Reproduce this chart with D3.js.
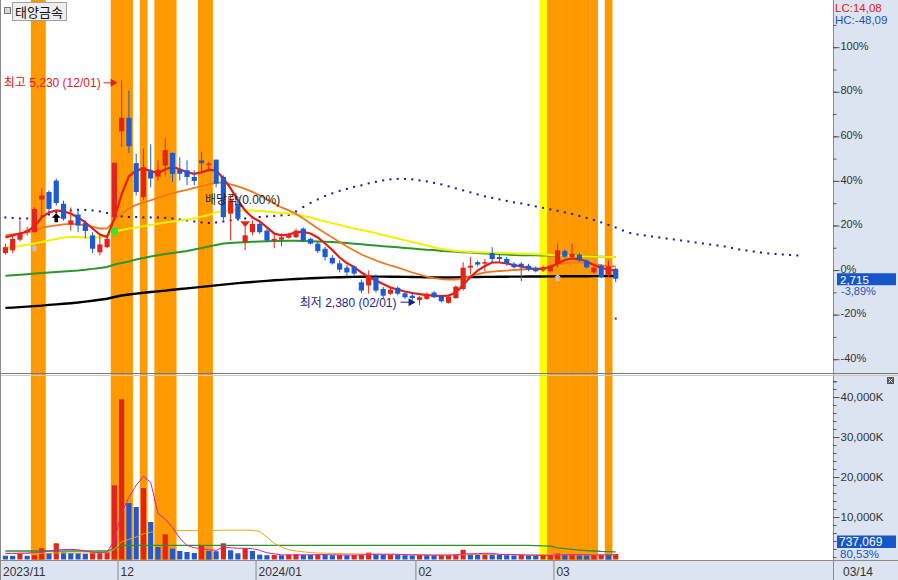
<!DOCTYPE html>
<html><head><meta charset="utf-8">
<script src="https://cdn.jsdelivr.net/npm/d3@7"></script>
<style>body{margin:0;background:#fff;}svg{display:block;font-family:"Liberation Sans","Noto Sans CJK KR",sans-serif;}</style>
</head><body><svg id="c" width="898" height="580"></svg>
<script>
// ---------------- DATA ----------------
const stockName = "태양금속";
const dates = ["11/09","11/10","11/13","11/14","11/15","11/16","11/17","11/20","11/21","11/22","11/23","11/24","11/27","11/28","11/29","11/30",
"12/01","12/04","12/05","12/06","12/07","12/08","12/11","12/12","12/13","12/14","12/15","12/18","12/19","12/20","12/21","12/22","12/26","12/27","12/28",
"01/02","01/03","01/04","01/05","01/08","01/09","01/10","01/11","01/12","01/15","01/16","01/17","01/18","01/19","01/22","01/23","01/24","01/25","01/26","01/29","01/30","01/31",
"02/01","02/02","02/05","02/06","02/07","02/08","02/13","02/14","02/15","02/16","02/19","02/20","02/21","02/22","02/23","02/26","02/27","02/28","02/29",
"03/04","03/05","03/06","03/07","03/08","03/11","03/12","03/13","03/14"];
const openP  = [3040,3075,3210,3325,3305,3720,3815,3960,3665,3405,3530,3420,3265,3050,3115,3495,4585,4755,4180,3750,4075,4010,4150,4310,4095,4090,4005,4215,4160,4225,4005,3540,3665,3180,3305,3410,3325,3215,3210,3235,3240,3350,3220,3160,3095,2980,2910,2855,2870,2670,2630,2735,2585,2525,2600,2530,2500,2445,2460,2540,2495,2410,2470,2585,2855,2925,2910,3040,2990,2965,2905,2905,2880,2855,2820,2810,2905,3065,2990,3020,2945,2795,2880,2775,2840];
const highP  = [3160,3265,3455,3370,3620,3860,3835,3985,3705,3620,3605,3455,3305,3290,3250,4185,5230,5100,4300,4365,4420,4215,4495,4315,4255,4215,4090,4320,4195,4225,4025,3770,3750,3370,3455,3430,3350,3290,3290,3300,3350,3365,3235,3180,3120,3015,2950,2890,2885,2705,2820,2770,2610,2600,2620,2555,2540,2495,2540,2560,2510,2500,2630,2925,2990,2945,2965,3115,3020,2990,2925,2925,2905,2870,2880,2895,3160,3090,3160,3040,2960,2870,2900,2945,2855];
const lowP   = [3020,3040,3185,3265,3300,3495,3555,3645,3450,3325,3305,3225,3040,3010,3100,3480,4385,4310,3770,3710,3875,3960,4025,3940,3960,3900,3900,4065,4095,3875,3455,3200,3455,3075,3265,3285,3180,3100,3125,3225,3230,3185,3150,3040,2945,2895,2795,2755,2745,2530,2525,2540,2470,2510,2505,2460,2440,2380,2445,2470,2415,2400,2460,2565,2770,2870,2810,2925,2925,2880,2845,2685,2810,2795,2800,2795,2860,2980,2965,2930,2845,2780,2720,2735,2670];
const closeP = [3115,3220,3290,3330,3600,3770,3600,3675,3475,3455,3390,3320,3095,3150,3220,4185,4755,4395,3815,4130,3985,4095,4345,4045,4045,4005,3955,4180,4175,3920,3495,3710,3475,3265,3410,3305,3200,3220,3240,3285,3325,3200,3160,3065,2990,2910,2830,2795,2780,2565,2755,2565,2500,2575,2525,2480,2470,2480,2525,2480,2430,2490,2615,2855,2880,2895,2925,2965,2965,2905,2860,2860,2830,2810,2860,2880,3075,2995,3030,2945,2860,2855,2735,2870,2715];
const volumeK = [320,290,800,300,450,2175,1000,3425,1175,1000,950,800,1175,1200,1250,17925,39425,13500,12500,17250,8750,2500,5675,2100,1500,1250,1000,2925,1500,1450,3425,1675,925,2100,1500,600,450,500,420,600,700,550,500,650,600,450,500,420,520,600,1100,700,550,600,500,450,400,500,450,400,420,450,700,1800,700,500,900,650,500,450,400,500,350,300,450,500,900,500,600,450,400,500,600,550,737];
const ma5   = [3238,3264,3289,3314,3378,3492,3556,3581,3568,3543,3492,3429,3352,3276,3244,3479,3784,4013,4089,4108,4083,4051,4102,4133,4102,4064,4045,4064,4095,4089,3987,3860,3708,3581,3492,3441,3365,3289,3264,3276,3302,3308,3289,3238,3162,3079,2984,2914,2863,2794,2736,2692,2648,2603,2578,2553,2534,2521,2508,2502,2495,2502,2540,2635,2736,2819,2876,2921,2921,2908,2889,2870,2851,2838,2845,2864,2908,2952,2971,2965,2933,2889,2851,2832,2813];
const ma20  = [3264,3276,3289,3302,3321,3359,3378,3391,3403,3410,3403,3391,3371,3352,3352,3454,3543,3606,3651,3683,3708,3740,3772,3797,3822,3841,3867,3886,3911,3930,3937,3911,3886,3854,3816,3772,3721,3670,3619,3581,3537,3479,3416,3352,3295,3238,3181,3124,3073,3022,2984,2946,2914,2883,2857,2826,2794,2768,2743,2724,2711,2705,2705,2724,2749,2775,2794,2806,2813,2819,2826,2832,2838,2838,2845,2864,2895,2914,2921,2921,2914,2902,2883,2876,2870];
const ma60  = [3107,3117,3130,3147,3162,3181,3200,3219,3238,3244,3244,3238,3238,3238,3257,3314,3333,3350,3365,3382,3397,3413,3429,3441,3454,3467,3479,3502,3524,3556,3575,3579,3581,3581,3579,3575,3568,3559,3549,3540,3530,3511,3492,3467,3441,3420,3397,3375,3352,3333,3314,3292,3270,3248,3225,3204,3181,3159,3137,3115,3092,3079,3067,3060,3054,3051,3048,3045,3042,3039,3035,3033,3029,3026,3022,3016,3010,3007,3003,3001,2997,2994,2993,2992,2990];
const ma120 = [2752,2758,2766,2772,2780,2787,2794,2800,2806,2813,2819,2829,2840,2852,2863,2895,2914,2933,2959,2978,2997,3012,3029,3041,3054,3067,3086,3105,3124,3143,3162,3168,3175,3178,3183,3187,3190,3192,3194,3195,3196,3194,3191,3187,3185,3181,3175,3167,3160,3152,3143,3135,3128,3120,3113,3105,3097,3090,3082,3079,3067,3062,3057,3051,3046,3041,3036,3031,3026,3021,3016,3014,3013,3012,3011,3010,3007,3004,3002,2999,2997,2996,2993,2992,2990];
const ma240 = [2345,2349,2355,2362,2368,2374,2383,2390,2397,2405,2413,2425,2436,2448,2461,2483,2502,2515,2527,2537,2546,2555,2565,2575,2584,2593,2603,2612,2622,2631,2641,2650,2659,2667,2674,2682,2688,2695,2701,2707,2712,2717,2721,2725,2729,2732,2734,2737,2739,2741,2742,2742,2742,2741,2740,2739,2737,2735,2733,2732,2731,2731,2732,2734,2736,2737,2738,2739,2740,2741,2742,2742,2743,2743,2744,2745,2745,2746,2746,2747,2747,2748,2748,2749,2749];
// leading line, drawn 25 sessions beyond the last candle
const leadLine = [3492,3486,3479,3479,3479,3505,3530,3556,3568,3581,3587,3587,3581,3568,3549,3524,3505,3498,3498,3492,3492,3492,3486,3479,3467,3454,3441,3429,3422,3429,3441,3454,3467,3479,3492,3498,3505,3511,3518,3524,3568,3625,3676,3721,3765,3797,3829,3854,3880,3899,3924,3943,3962,3975,3981,3981,3975,3962,3949,3930,3911,3886,3860,3835,3810,3784,3759,3740,3721,3702,3683,3670,3651,3632,3613,3594,3575,3556,3537,3511,3486,3460,3429,3397,3365,3327,3295,3276,3264,3251,3238,3225,3213,3200,3187,3175,3162,3149,3137,3124,3105,3086,3073,3060,3048,3035,3029,3022,3016,3010];
const volMa5  = [925,900,950,1000,1100,1300,1500,1700,1850,1900,1800,1500,1200,1100,1250,4175,11175,14925,17925,20175,18675,10925,9425,7425,4675,2925,2300,2100,1800,1675,2500,2300,2175,2175,2100,1675,1050,800,550,500,520,540,560,580,600,550,520,500,480,510,650,690,690,710,690,560,540,500,460,440,440,440,480,760,810,830,920,910,650,640,580,500,440,400,400,420,540,540,590,590,570,490,510,540,560];
const volMa20 = [900,900,900,900,900,950,950,1000,1000,1000,1000,1000,1000,1000,1050,1900,3800,4400,5000,5800,6200,6300,6500,6550,6600,6600,6600,6650,6650,6650,6700,6700,6700,6700,6650,6400,5000,3400,2500,1800,1500,1300,1100,1000,950,900,850,800,800,750,750,700,650,620,600,590,580,570,560,550,550,550,560,600,620,630,650,650,640,630,620,610,600,590,580,570,570,570,570,560,560,560,560,560,560];
const volMa60 = [1500,1500,1500,1500,1500,1500,1500,1500,1500,1500,1500,1500,1500,1500,1500,2000,2900,2900,2900,2900,2900,2900,2900,2900,2900,2900,2900,2900,2900,2900,2900,2900,2900,2900,2900,2900,2900,2900,2900,2900,2900,2900,2900,2900,2900,2900,2900,2900,2900,2900,2900,2900,2900,2900,2900,2900,2900,2900,2900,2900,2900,2900,2900,2900,2900,2900,2900,2900,2900,2900,2900,2900,2900,2850,2800,2700,2300,2100,1900,1700,1600,1500,1400,1350,1300];
const orangeDays = [4,5,15,16,17,19,21,22,23,27,28,75,76,77,78,79,80,81,83];
const yellowDays = [74];
const pctTicks = [100,80,60,40,20,0,-20,-40];
const volTicks = [10000,20000,30000,40000];
const monthLabels = [{i:0,t:"2023/11"},{i:16,t:"12"},{i:35,t:"2024/01"},{i:57,t:"02"},{i:76,t:"03"}];
const basePrice = 2825;
const buySignals = [{i:7,p:3545}];
const sellSignals = [{i:33,p:3405}];
const grayMarks = [{i:4,p:3105},{i:76,p:2730}];
const crossDots = [{i:15,p:3318}];
const smallMarks = [{i:84,p:2210}];
const dividendNote = {i:27,t:"배당락(0.00%)"};
const lastVolumeText = "737,069", lastVolumePct = "80.53%";

// ---------------- DRAW ----------------
const svg = d3.select("#c");
const W=898,H=580,PR=833;
const RED="#e42418",BLUE="#1f5ad2";
svg.append("rect").attr("width",W).attr("height",H).attr("fill","#fff");

const x = d3.scaleLinear().domain([0,84]).range([5.4,615.7]);
const step = x(1)-x(0);
const yPct = d3.scaleLinear().domain([-40,100]).range([359.2,47.2]);
const yP = p => yPct((p/basePrice-1)*100);
const yV = d3.scaleLinear().domain([0,40000]).range([557,397]);

const defs = svg.append("defs");
defs.append("clipPath").attr("id","cp").append("rect").attr("x",0).attr("y",0).attr("width",PR).attr("height",373);
defs.append("clipPath").attr("id","cv").append("rect").attr("x",0).attr("y",376).attr("width",PR).attr("height",184);

// bands
const bands = svg.append("g");
bands.selectAll(".ob").data(orangeDays).join("rect").attr("x",d=>x(d)-step/2).attr("width",step+0.4).attr("y",0).attr("height",560).attr("fill","#ff9900");
bands.selectAll(".yb").data(yellowDays).join("rect").attr("x",d=>x(d)-step/2).attr("width",step+0.4).attr("y",0).attr("height",560).attr("fill","#ffff00");

// price pane
const gp = svg.append("g").attr("clip-path","url(#cp)");
gp.selectAll(".ld").data(leadLine).join("rect").attr("x",(d,i)=>x(i)-1).attr("y",d=>yP(d)-1).attr("width",2).attr("height",2).attr("fill","#1a1a96");
const line = d3.line().x((d,i)=>x(i)).y(d=>yP(d));
const maDefs = [[ma240,"#000",2.4],[ma120,"#2c962c",2],[ma60,"#f2f200",2],[ma20,"#f07820",1.8],[ma5,"#e41c14",2.2]];
maDefs.forEach(([arr,c,w])=>gp.append("path").attr("d",line(arr)).attr("fill","none").attr("stroke",c).attr("stroke-width",w));

// candles
const cg = gp.append("g");
closeP.forEach((c,i)=>{
  const o=openP[i],h=highP[i],l=lowP[i];
  const col = c>=o?RED:BLUE;
  cg.append("line").attr("x1",x(i)).attr("x2",x(i)).attr("y1",yP(h)).attr("y2",yP(l)).attr("stroke",col).attr("stroke-width",1);
  const yt=yP(Math.max(o,c)), yb=yP(Math.min(o,c));
  cg.append("rect").attr("x",x(i)-2.6).attr("width",5.2).attr("y",yt).attr("height",Math.max(1.5,yb-yt)).attr("fill",col);
});
// markers
crossDots.forEach(d=>gp.append("circle").attr("cx",x(d.i)).attr("cy",yP(d.p)).attr("r",3.8).attr("fill","#33e633"));
buySignals.forEach(d=>{const cx=x(d.i),cy=yP(d.p);
  gp.append("path").attr("d",`M${cx},${cy}L${cx+4.5},${cy+4.5}L${cx+1.8},${cy+4.5}L${cx+1.8},${cy+9}L${cx-1.8},${cy+9}L${cx-1.8},${cy+4.5}L${cx-4.5},${cy+4.5}Z`).attr("fill","#000");});
grayMarks.forEach(d=>{const cx=x(d.i),cy=yP(d.p);
  gp.append("path").attr("d",`M${cx},${cy-3.5}L${cx+3.5},${cy}L${cx+2},${cy}L${cx+2},${cy+3.5}L${cx-2},${cy+3.5}L${cx-2},${cy}L${cx-3.5},${cy}Z`).attr("fill","#c0c0c0");});
sellSignals.forEach(d=>{const cx=x(d.i),cy=yP(d.p);
  gp.append("path").attr("d",`M${cx-5},${cy-3}L${cx+5},${cy-3}L${cx},${cy+3}Z`).attr("fill",RED);});
smallMarks.forEach(d=>gp.append("rect").attr("x",x(d.i)-1).attr("y",yP(d.p)-1).attr("width",2).attr("height",2).attr("fill","#b01010"));

// high / low annotations
const hiIdx = d3.maxIndex(highP), loIdx = d3.minIndex(lowP);
const fmt = d3.format(",");
function arrow(g,x1,x2,y,color){
  g.append("line").attr("x1",x1).attr("x2",x2-5).attr("y1",y).attr("y2",y).attr("stroke",color);
  g.append("path").attr("d",`M${x2-7},${y-4}L${x2},${y}L${x2-7},${y+4}Z`).attr("fill",color);
}
const hx = x(hiIdx)-4, hy = yP(highP[hiIdx])+2.5;
gp.append("text").attr("x",hx-17).attr("y",hy+4.5).attr("text-anchor","end").attr("font-size",12).attr("fill","#e02020")
  .text(`최고 ${fmt(highP[hiIdx])} (${dates[hiIdx]})`);
arrow(gp,hx-14,hx,hy,"#e02020");
const lx = x(loIdx)-4, ly = yP(lowP[loIdx])-3;
gp.append("text").attr("x",lx-19).attr("y",ly+4.5).attr("text-anchor","end").attr("font-size",12).attr("fill","#1e1e8c")
  .text(`최저 ${fmt(lowP[loIdx])} (${dates[loIdx]})`);
arrow(gp,lx-15,lx,ly,"#1e1e8c");
gp.append("text").attr("x",x(dividendNote.i)+3.5).attr("y",203.5).attr("font-size",12).attr("fill","#222").text(dividendNote.t);

// volume pane
const gv = svg.append("g").attr("clip-path","url(#cv)");
volumeK.forEach((v,i)=>{
  const col = i===0 ? BLUE : (v>=volumeK[i-1]?RED:BLUE);
  gv.append("rect").attr("x",x(i)-2.6).attr("width",5.2).attr("y",yV(v)).attr("height",559.5-yV(v)).attr("fill",col);
});
const vline = d3.line().x((d,i)=>x(i)).y(d=>yV(d));
[[volMa60,"#2f8f2f",1.3],[volMa20,"#e0aa10",1],[volMa5,"#d21eb4",1]].forEach(([a,c,w])=>gv.append("path").attr("d",vline(a)).attr("fill","none").attr("stroke",c).attr("stroke-width",w));

// right axis panel
const AX="#dbe4f0";
svg.append("rect").attr("x",PR+0.5).attr("y",0).attr("width",W-PR).attr("height",H).attr("fill",AX);
svg.append("rect").attr("x",0).attr("y",561).attr("width",W).attr("height",19).attr("fill",AX);
svg.append("line").attr("x1",PR+0.5).attr("x2",PR+0.5).attr("y1",0).attr("y2",580).attr("stroke","#8a8a8a");
svg.append("line").attr("x1",0).attr("x2",W).attr("y1",560.5).attr("y2",560.5).attr("stroke","#8a8a8a");
svg.append("line").attr("x1",0).attr("x2",W).attr("y1",373.5).attr("y2",373.5).attr("stroke","#7a7a7a");
svg.append("line").attr("x1",0).attr("x2",W).attr("y1",375.5).attr("y2",375.5).attr("stroke","#c8c8c8");
svg.append("line").attr("x1",0.5).attr("x2",0.5).attr("y1",0).attr("y2",580).attr("stroke","#8a8a8a");

const minorPct = d3.range(-50,111,10);
const ax1 = svg.append("g").attr("transform",`translate(${PR+0.5},0)`).call(d3.axisRight(yPct).tickValues(minorPct).tickSize(3).tickFormat(""));
const ax2 = svg.append("g").attr("transform",`translate(${PR+0.5},0)`).call(d3.axisRight(yPct).tickValues(pctTicks).tickSize(6).tickPadding(1).tickFormat(d=>d+"%"));
const minorVol = d3.range(0,44001,2000);
const ax3 = svg.append("g").attr("transform",`translate(${PR+0.5},0)`).call(d3.axisRight(yV).tickValues(minorVol).tickSize(3).tickFormat(""));
const ax4 = svg.append("g").attr("transform",`translate(${PR+0.5},0)`).call(d3.axisRight(yV).tickValues(volTicks).tickSize(6).tickPadding(1).tickFormat(d=>fmt(d)+"K"));
[ax1,ax2,ax3,ax4].forEach(a=>{a.select(".domain").remove();a.selectAll("line").attr("stroke","#555");a.selectAll("text").attr("font-size",11.5).attr("fill","#333").attr("font-family","Liberation Sans, sans-serif");});
ax2.selectAll("text").attr("dy","0.2em").attr("font-size",11);

// top-right info
svg.append("text").attr("x",835).attr("y",12).attr("font-size",11.5).attr("fill","#e02020").text("LC:"+(((closeP[84]/d3.min(lowP))-1)*100).toFixed(2).replace(".",","));
svg.append("text").attr("x",835).attr("y",24).attr("font-size",11.5).attr("fill","#1e50c0").text("HC:"+(((closeP[84]/d3.max(highP))-1)*100).toFixed(2).replace(".",","));
// last price box
const lp = closeP[84], lpy = yP(lp);
svg.append("rect").attr("x",837).attr("y",lpy-5.5).attr("width",59).attr("height",12).attr("fill","#1656c8");
svg.append("text").attr("x",840).attr("y",lpy+4.8).attr("font-size",11.5).attr("fill","#fff").text(fmt(lp));
svg.append("text").attr("x",841).attr("y",lpy+16.5).attr("font-size",11).attr("fill","#1e50c0").text(((lp/basePrice-1)*100).toFixed(2).replace(".",",")+"%");
// last volume box
svg.append("rect").attr("x",837).attr("y",535.5).attr("width",59).attr("height",12.5).attr("fill","#1656c8");
svg.append("text").attr("x",839).attr("y",546).attr("font-size",12).attr("fill","#fff").text(lastVolumeText);
svg.append("text").attr("x",840).attr("y",557.5).attr("font-size",11.5).attr("fill","#1e50c0").text(lastVolumePct.replace(".",","));
// close icon
svg.append("rect").attr("x",887).attr("y",377).attr("width",7).attr("height",7).attr("fill","#555");
svg.append("path").attr("d","M888.5,378.5L892.5,382.5M892.5,378.5L888.5,382.5").attr("stroke","#fff").attr("stroke-width",1);

// bottom axis
monthLabels.forEach(m=>{
  const sx = Math.max(1.5, x(m.i)-step/2);
  if(m.i>0) svg.append("line").attr("x1",sx).attr("x2",sx).attr("y1",561).attr("y2",580).attr("stroke","#8a8a8a");
  svg.append("text").attr("x",m.i>0?sx+2.5:3).attr("y",576).attr("font-size",12).attr("fill","#333").text(m.t);
});
svg.append("text").attr("x",843).attr("y",576).attr("font-size",12).attr("fill","#333").text(dates[84]);

// title box
svg.append("rect").attr("x",4.5).attr("y",7.5).attr("width",6).attr("height",6).attr("fill","#d8d8d8").attr("stroke","#777");
svg.append("rect").attr("x",12.5).attr("y",2.5).attr("width",54).attr("height",18).attr("fill","#eeeeee").attr("stroke","#a0a0a0");
svg.append("text").attr("x",15).attr("y",16.5).attr("font-size",13).attr("fill","#111").attr("font-family","Noto Sans CJK KR").text(stockName);
</script></body></html>
